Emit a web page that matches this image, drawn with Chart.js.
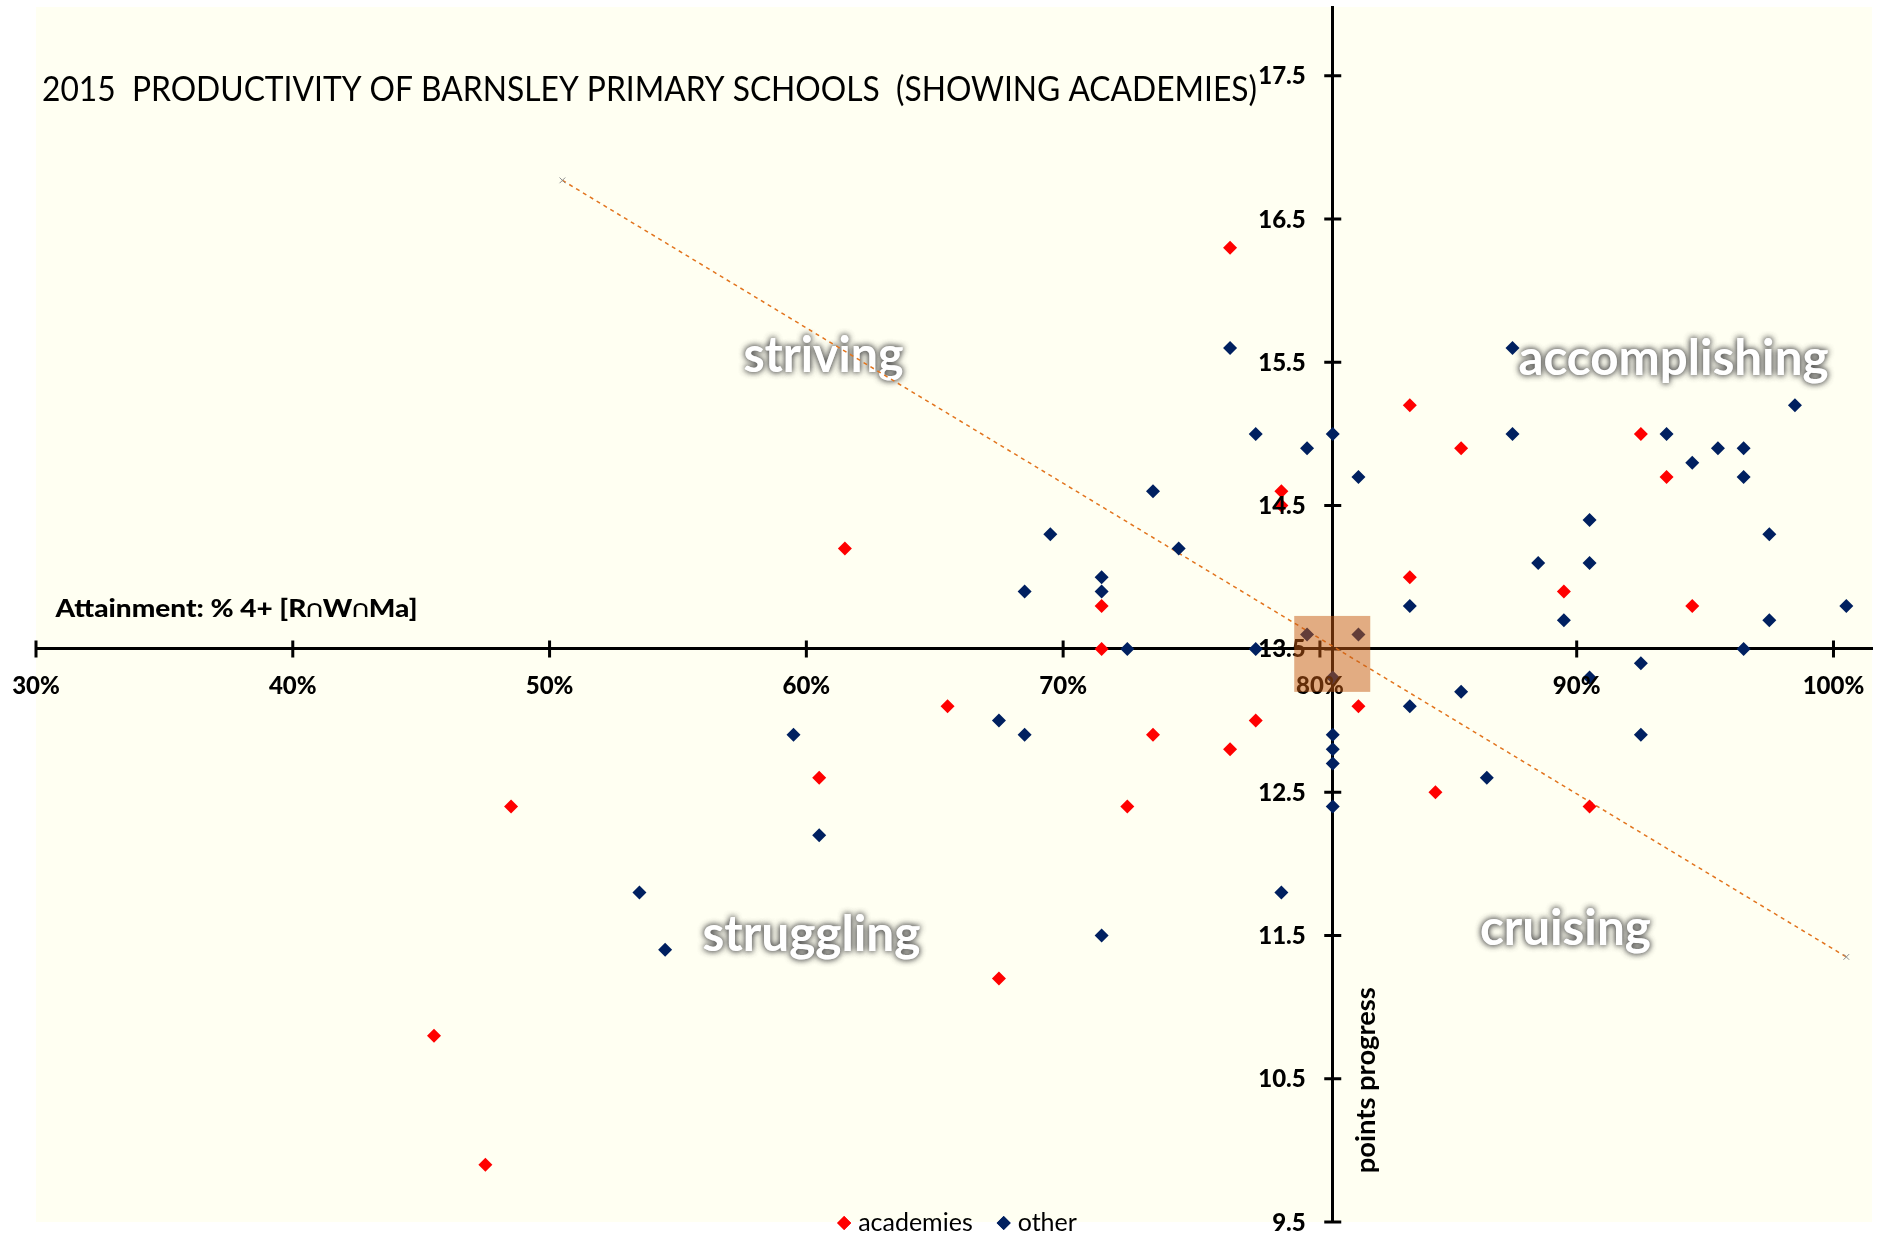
<!DOCTYPE html>
<html>
<head>
<meta charset="utf-8">
<title>2015 Productivity of Barnsley Primary Schools</title>
<script src="https://cdn.jsdelivr.net/npm/chart.js@4.4.1/dist/chart.umd.min.js"></script>
<style>
  html, body { margin: 0; padding: 0; background: #ffffff; }
  #wrap { position: relative; width: 1880px; height: 1239px; }
</style>
</head>
<body>
<div id="wrap"><canvas id="schoolChart"></canvas></div>
<script>
// attainment = share of pupils at level 4+ in reading, writing and maths
// progress = average points progress
const academiesAttainment = [0.765, 0.835, 0.855, 0.925, 0.935, 0.785, 0.785, 0.615, 0.835, 0.895, 0.945, 0.715, 0.715,
    0.655, 0.815, 0.775, 0.735, 0.765, 0.605, 0.845, 0.725, 0.485, 0.905, 0.675, 0.455, 0.475];
const academiesProgress = [16.3, 15.2, 14.9, 15.0, 14.7, 14.6, 14.5, 14.2, 14.0, 13.9, 13.8, 13.8, 13.5,
    13.1, 13.1, 13.0, 12.9, 12.8, 12.6, 12.5, 12.4, 12.4, 12.4, 11.2, 10.8, 9.9];

const otherAttainment = [0.765, 0.875, 0.775, 0.805, 0.875, 0.935, 0.795, 0.945, 0.955, 0.965, 0.965, 0.985, 0.815,
    0.735, 0.695, 0.745, 0.905, 0.975, 0.885, 0.905, 0.715, 0.715, 0.685, 0.835, 1.005, 0.895, 0.975, 0.795, 0.815,
    0.725, 0.775, 0.965, 0.925, 0.805, 0.905, 0.855, 0.835, 0.675, 0.595, 0.685, 0.805, 0.805, 0.805, 0.925, 0.865,
    0.805, 0.605, 0.535, 0.785, 0.545, 0.715];
const otherProgress = [15.6, 15.6, 15.0, 15.0, 15.0, 15.0, 14.9, 14.8, 14.9, 14.9, 14.7, 15.2, 14.7,
    14.6, 14.3, 14.2, 14.4, 14.3, 14.1, 14.1, 14.0, 13.9, 13.9, 13.8, 13.8, 13.7, 13.7, 13.6, 13.6,
    13.5, 13.5, 13.5, 13.4, 13.3, 13.3, 13.2, 13.1, 13.0, 12.9, 12.9, 12.9, 12.8, 12.7, 12.9, 12.6,
    12.4, 12.2, 11.8, 11.8, 11.4, 11.5];

// linear trend line end points
const trendAttainment = [0.505, 1.005];
const trendProgress = [16.77, 11.35];

const xTickValues = [0.3, 0.4, 0.5, 0.6, 0.7, 0.8, 0.9, 1.0];
const yTickValues = [9.5, 10.5, 11.5, 12.5, 13.5, 14.5, 15.5, 16.5, 17.5];

// where the axes cross (the averages)
const crossAttainment = 0.805;
const crossProgress = 13.5;

const chartFont = 'Lato, "Open Sans", sans-serif';

const quadrantLabels = [
    { text: "striving", x: 0.6067, y: 15.43, width: 160 },
    { text: "accomplishing", x: 0.9377, y: 15.41, width: 310 },
    { text: "struggling", x: 0.602, y: 11.39, width: 218 },
    { text: "cruising", x: 0.8956, y: 11.43, width: 171 }
];

function points(xs, ys) {
    return xs.map((x, i) => ({ x: x, y: ys[i] }));
}

// draw text squeezed sideways to a given width (Calibri is narrower than Lato)
function fitText(ctx, text, x, y, width, align) {
    const w = ctx.measureText(text).width;
    ctx.save();
    ctx.translate(x, y);
    ctx.scale(width / w, 1);
    ctx.textAlign = align;
    ctx.fillText(text, 0, 0);
    ctx.restore();
}

const noPadding = (scale) => {
    scale.paddingLeft = 0;
    scale.paddingRight = 0;
    scale.paddingTop = 0;
    scale.paddingBottom = 0;
};

const backdrop = {
    id: "backdrop",
    beforeDraw(chart) {
        const { ctx, chartArea: a } = chart;
        ctx.save();
        ctx.fillStyle = "#FFFFF2";
        ctx.fillRect(a.left, a.top, a.right - a.left, a.bottom - a.top);
        ctx.restore();
    }
};

// cross tick marks, quadrant names
const underMarks = {
    id: "underMarks",
    beforeDatasetsDraw(chart) {
        const { ctx, scales: { x, y } } = chart;
        const x0 = x.getPixelForValue(crossAttainment);
        const y0 = y.getPixelForValue(crossProgress);
        ctx.save();
        ctx.strokeStyle = "#000";
        ctx.lineWidth = 3;
        ctx.beginPath();
        x.ticks.forEach(t => {
            const px = x.getPixelForValue(t.value);
            ctx.moveTo(px, y0 - 8.5);
            ctx.lineTo(px, y0 + 8.5);
        });
        y.ticks.forEach(t => {
            const py = y.getPixelForValue(t.value);
            ctx.moveTo(x0 - 8.5, py);
            ctx.lineTo(x0 + 8.5, py);
        });
        ctx.stroke();

        ctx.font = "bold 50px " + chartFont;
        ctx.textBaseline = "alphabetic";
        ctx.fillStyle = "#FFFFFF";
        ctx.shadowColor = "rgba(70, 70, 70, 0.85)";
        ctx.shadowBlur = 6;
        quadrantLabels.forEach(q => {
            const px = x.getPixelForValue(q.x);
            const py = y.getPixelForValue(q.y);
            fitText(ctx, q.text, px, py, q.width, "center");
            fitText(ctx, q.text, px, py, q.width, "center");
        });
        ctx.restore();
    }
};

// tick labels, shaded box at the average, titles, legend
const overMarks = {
    id: "overMarks",
    afterDraw(chart) {
        const { ctx, chartArea: a, scales: { x, y } } = chart;
        const x0 = x.getPixelForValue(crossAttainment);
        const y0 = y.getPixelForValue(crossProgress);
        ctx.save();

        // tick labels sit off the crossing axes, like the Excel original
        ctx.fillStyle = "#000";
        ctx.font = "900 24px " + chartFont;
        ctx.textBaseline = "alphabetic";
        ctx.textAlign = "center";
        x.ticks.forEach(t => ctx.fillText(t.label, x.getPixelForValue(t.value), y0 + 45));
        ctx.textAlign = "right";
        y.ticks.forEach(t => ctx.fillText(t.label, x0 - 27, y.getPixelForValue(t.value) + 8.5));

        const bx1 = x.getPixelForValue(0.79), bx2 = x.getPixelForValue(0.8196);
        const by1 = y.getPixelForValue(13.73), by2 = y.getPixelForValue(13.2);
        ctx.fillStyle = "rgba(197, 90, 17, 0.5)";
        ctx.fillRect(bx1, by1, bx2 - bx1, by2 - by1);

        ctx.fillStyle = "#000";
        ctx.textBaseline = "alphabetic";
        ctx.font = "400 34px " + chartFont;
        fitText(ctx, "2015  PRODUCTIVITY OF BARNSLEY PRIMARY SCHOOLS  (SHOWING ACADEMIES)",
            a.left + 6, a.top + 94, 1215, "left");

        ctx.textBaseline = "middle";
        ctx.font = "900 25px " + chartFont;
        fitText(ctx, "Attainment: % 4+ [R\u2229W\u2229Ma]",
            x.getPixelForValue(0.3076), y.getPixelForValue(13.777), 362, "left");

        ctx.save();
        ctx.translate(x.getPixelForValue(0.8181), y.getPixelForValue(10.49));
        ctx.rotate(-Math.PI / 2);
        ctx.font = "bold 27px " + chartFont;
        fitText(ctx, "points progress", 0, 0, 186, "center");
        ctx.restore();

        // legend
        const items = chart.data.datasets.filter(d => d.inLegend);
        ctx.font = "400 25px " + chartFont;
        const widths = items.map(d => ctx.measureText(d.label).width);
        const total = widths.reduce((s, w) => s + 14 + 7 + w, 0) + 24 * (items.length - 1);
        let cx = 957 - total / 2;
        const cy = a.bottom + 1;
        items.forEach((d, i) => {
            ctx.fillStyle = d.backgroundColor;
            Chart.helpers.drawPoint(ctx, { pointStyle: "rectRot", radius: 7, borderWidth: 0, rotation: 0 }, cx + 7, cy);
            ctx.fill();
            ctx.fillStyle = "#000";
            ctx.textAlign = "left";
            ctx.fillText(d.label, cx + 21, cy);
            cx += 21 + widths[i] + 24;
        });
        ctx.restore();
    }
};

const ctx = document.getElementById("schoolChart").getContext("2d");
const schoolChart = new Chart(ctx, {
    type: "scatter",
    data: {
        datasets: [
            {
                label: "academies",
                inLegend: true,
                data: points(academiesAttainment, academiesProgress),
                backgroundColor: "#FF0000",
                borderColor: "#FF0000",
                borderWidth: 0,
                pointStyle: "rectRot",
                pointRadius: 7
            },
            {
                label: "other",
                inLegend: true,
                data: points(otherAttainment, otherProgress),
                backgroundColor: "#002060",
                borderColor: "#002060",
                borderWidth: 0,
                pointStyle: "rectRot",
                pointRadius: 7
            },
            {
                label: "trend",
                data: points(trendAttainment, trendProgress),
                showLine: true,
                borderColor: "#E2741E",
                borderWidth: 1.5,
                borderDash: [4, 4],
                pointStyle: "crossRot",
                pointRadius: 4,
                pointBorderColor: "#8C8C8C",
                pointBackgroundColor: "#8C8C8C",
                pointBorderWidth: 1
            }
        ]
    },
    options: {
        responsive: true,
        maintainAspectRatio: false,
        animation: false,
        events: [],
        layout: { padding: { left: 36, top: 5, right: 8, bottom: 17 } },
        plugins: {
            legend: { display: false },
            tooltip: { enabled: false }
        },
        scales: {
            x: {
                type: "linear",
                min: 0.3,
                max: 1.015,
                position: { y: crossProgress },
                afterBuildTicks: s => { s.ticks = xTickValues.map(v => ({ value: v })); },
                afterFit: noPadding,
                grid: { display: false },
                border: { display: true, color: "#000", width: 3 },
                ticks: {
                    display: false,
                    autoSkip: false,
                    callback: v => Math.round(v * 100) + "%"
                }
            },
            y: {
                type: "linear",
                min: 9.5,
                max: 17.98,
                position: { x: crossAttainment },
                afterBuildTicks: s => { s.ticks = yTickValues.map(v => ({ value: v })); },
                afterFit: noPadding,
                grid: { display: false },
                border: { display: true, color: "#000", width: 3 },
                ticks: {
                    display: false,
                    autoSkip: false,
                    callback: v => v.toFixed(1)
                }
            }
        }
    },
    plugins: [backdrop, underMarks, overMarks]
});
</script>
</body>
</html>
